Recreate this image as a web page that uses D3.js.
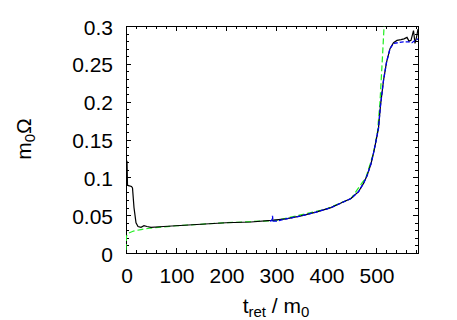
<!DOCTYPE html>
<html>
<head>
<meta charset="utf-8">
<script src="https://cdn.jsdelivr.net/npm/d3@7"></script>
<style>
  body { margin: 0; background: #fff; }
  text { font-family: "Liberation Sans", Arial, sans-serif; }
</style>
</head>
<body>
<div id="chart"></div>
<script>
// black: full signal
const blackT = [2, 3, 5, 11, 13, 16, 20, 24, 30, 36, 42, 50, 75, 100, 150, 200, 250, 290, 320, 350, 380, 410, 430, 450, 465, 475, 482, 490, 495, 500, 505, 509, 515, 521, 528, 535, 542, 550, 556, 562, 566, 570, 575, 578, 581, 584];
const blackV = [0.122, 0.09, 0.089, 0.088, 0.086, 0.06, 0.040, 0.035, 0.034, 0.036, 0.035, 0.034, 0.035, 0.036, 0.038, 0.040, 0.041, 0.043, 0.045, 0.049, 0.054, 0.06, 0.066, 0.072, 0.081, 0.092, 0.102, 0.118, 0.132, 0.148, 0.165, 0.195, 0.228, 0.252, 0.27, 0.278, 0.281, 0.282, 0.283, 0.285, 0.280, 0.281, 0.294, 0.277, 0.285, 0.296];

// blue dashed
const blueT = [288, 292, 293, 294, 300, 320, 350, 380, 410, 430, 450, 465, 475, 482, 490, 495, 500, 505, 509, 515, 521, 528, 535, 545, 555, 565, 572, 578, 584];
const blueV = [0.042, 0.043, 0.049, 0.042, 0.042, 0.045, 0.049, 0.054, 0.06, 0.066, 0.072, 0.081, 0.092, 0.102, 0.118, 0.132, 0.148, 0.165, 0.195, 0.228, 0.252, 0.27, 0.277, 0.278, 0.279, 0.279, 0.278, 0.281, 0.283];

// green dashed
const greenT = [0, 1, 4, 15, 30, 50, 100, 200, 300, 400, 450, 480, 495, 503, 508, 513, 517];
const greenV = [0.004, 0.022, 0.026, 0.029, 0.031, 0.033, 0.036, 0.040, 0.043, 0.058, 0.072, 0.1, 0.132, 0.16, 0.2, 0.26, 0.31];

const xMajor = [0, 100, 200, 300, 400, 500];
const yMajor = [0, 0.05, 0.1, 0.15, 0.2, 0.25, 0.3];
const yLabels = ["0", "0.05", "0.1", "0.15", "0.2", "0.25", "0.3"];

const W = 457, H = 320;
const pL = 126, pR = 418, pT = 26, pB = 253;

const x = d3.scaleLinear().domain([0, 584]).range([pL, pR]);
const y = d3.scaleLinear().domain([0, 0.3]).range([pB, pT]);

const svg = d3.select("#chart").append("svg")
    .attr("width", W).attr("height", H);

svg.append("defs").append("clipPath").attr("id", "clip")
    .append("rect")
    .attr("x", pL).attr("y", pT)
    .attr("width", pR - pL + 1).attr("height", pB - pT);

const xMinor = d3.range(0, 585, 20);
const yMinor = d3.range(0, 0.3001, 0.01);

const ticks = svg.append("g").attr("stroke", "#000").attr("stroke-width", 1);
xMinor.forEach(t => {
    const len = xMajor.includes(t) ? 5 : 3;
    const px = Math.round(x(t)) + 0.5;
    ticks.append("line").attr("x1", px).attr("x2", px).attr("y1", pB).attr("y2", pB - len);
    ticks.append("line").attr("x1", px).attr("x2", px).attr("y1", pT).attr("y2", pT + len);
});
yMinor.forEach((v, i) => {
    const len = i % 5 == 0 ? 5 : 3;
    const py = Math.round(y(v)) + 0.5;
    ticks.append("line").attr("x1", pL).attr("x2", pL + len).attr("y1", py).attr("y2", py);
    ticks.append("line").attr("x1", pR).attr("x2", pR - len).attr("y1", py).attr("y2", py);
});

const line = (xs, ys) => d3.line()
    .x((d, i) => x(xs[i]))
    .y((d, i) => y(ys[i]))(xs);

svg.append("rect")
    .attr("x", pL + 0.5).attr("y", pT + 0.5)
    .attr("width", pR - pL).attr("height", pB - pT)
    .attr("fill", "none").attr("stroke", "#000").attr("stroke-width", 1);

const plot = svg.append("g").attr("clip-path", "url(#clip)").attr("fill", "none");

plot.append("path")
    .attr("d", line(greenT, greenV))
    .attr("stroke", "#22ee22")
    .attr("stroke-width", 1.2)
    .attr("stroke-dasharray", "6,3");

plot.append("path")
    .attr("d", line(blackT, blackV))
    .attr("stroke", "#000")
    .attr("stroke-width", 1.2);

plot.append("path")
    .attr("d", line(blueT, blueV))
    .attr("stroke", "#0000ee")
    .attr("stroke-width", 1.3)
    .attr("stroke-dasharray", "4,2");

svg.append("g").selectAll("text").data(yMajor).enter().append("text")
    .attr("x", 113)
    .attr("y", d => y(d) + 8.5)
    .attr("text-anchor", "end")
    .attr("font-size", "21px")
    .text((d, i) => yLabels[i]);

svg.append("g").selectAll("text").data(xMajor).enter().append("text")
    .attr("x", d => x(d) + 1)
    .attr("y", 283)
    .attr("text-anchor", "middle")
    .attr("font-size", "21px")
    .text(d => d);

const xl = svg.append("text")
    .attr("x", 276).attr("y", 313)
    .attr("text-anchor", "middle")
    .attr("font-size", "21px");
xl.append("tspan").text("t");
xl.append("tspan").attr("font-size", "15px").attr("dy", 4).text("ret");
xl.append("tspan").attr("dy", -4).text(" / m");
xl.append("tspan").attr("font-size", "15px").attr("dy", 4).text("0");

const yl = svg.append("text")
    .attr("transform", "translate(31,139) rotate(-90)")
    .attr("text-anchor", "middle")
    .attr("font-size", "21px");
yl.append("tspan").text("m");
yl.append("tspan").attr("font-size", "15px").attr("dy", 4).text("0");
yl.append("tspan").attr("dy", -4).text("Ω");
</script>
</body>
</html>
